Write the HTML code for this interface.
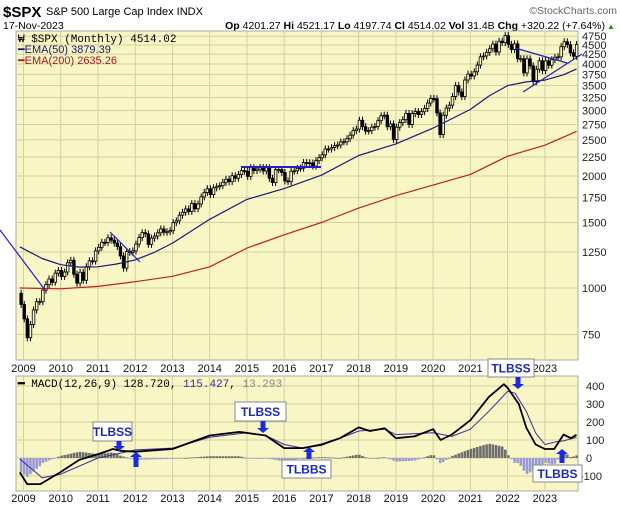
<!DOCTYPE html>
<html><head><meta charset="utf-8"><style>
body{margin:0;background:#fff;width:620px;height:507px;overflow:hidden;font-family:"Liberation Sans",sans-serif}
svg{position:absolute;left:0;top:0}
</style></head><body>
<svg id="c" width="620" height="507" viewBox="0 0 620 507" xmlns="http://www.w3.org/2000/svg">
<g id="hdr">
<text x="3" y="17" font-size="15" font-weight="bold">$SPX</text>
<text x="46" y="15" font-size="11">S&amp;P 500 Large Cap Index INDX</text>
<text x="617" y="14" font-size="10.5" fill="#666" text-anchor="end">©StockCharts.com</text>
<text x="3" y="29" font-size="10.5">17-Nov-2023</text>
<text x="605" y="29" font-size="10.5" text-anchor="end"><tspan font-weight="bold">Op</tspan> 4201.27 <tspan font-weight="bold">Hi</tspan> 4521.17 <tspan font-weight="bold">Lo</tspan> 4197.74 <tspan font-weight="bold">Cl</tspan> 4514.02 <tspan font-weight="bold">Vol</tspan> 31.4B <tspan font-weight="bold">Chg</tspan> +320.22 (+7.64%)</text>
<text x="607" y="29" font-size="8" fill="#2a8a2a">▲</text>
</g>
<g id="main"></g>
<g id="macd"></g>
</svg>
<script>
// ---- price data (monthly closes Dec-2008 .. Nov-2023) ----
const startYear = 2008, startMonth = 11; // Dec 2008
const closes = [903,
826,735,798,873,919,919,987,1021,1057,1036,1096,1115,
1074,1104,1169,1187,1089,1031,1102,1049,1141,1183,1181,1258,
1286,1327,1326,1364,1345,1321,1292,1219,1131,1253,1247,1258,
1312,1366,1408,1398,1310,1362,1379,1407,1441,1412,1416,1426,
1498,1515,1569,1598,1631,1606,1686,1633,1682,1757,1806,1848,
1783,1859,1872,1884,1924,1960,1931,2003,1972,2018,2068,2059,
1995,2105,2068,2086,2107,2063,2104,1972,1920,2079,2080,2044,
1940,1932,2060,2065,2097,2099,2174,2171,2168,2126,2199,2239,
2279,2364,2363,2384,2412,2423,2470,2472,2519,2575,2648,2674,
2824,2714,2641,2648,2705,2718,2816,2902,2914,2712,2760,2507,
2704,2784,2834,2946,2752,2942,2980,2926,2977,3038,3141,3231,
3226,2954,2585,2912,3044,3100,3271,3500,3363,3270,3622,3756,
3714,3811,3973,4181,4204,4298,4395,4523,4308,4605,4567,4766,
4516,4374,4530,4132,4132,3785,4130,3955,3586,3872,4080,3840,
4077,3970,4109,4169,4180,4450,4589,4508,4288,4194,4514];
const firstOpen = 968;
const ema50T = [2008.9,2009.5,2010,2010.5,2011,2011.5,2012,2012.5,2013,2014,2015,2016,2017,2018,2019,2020,2021,2021.5,2022,2022.5,2023,2023.5,2023.85];
const ema50V = [1290,1200,1155,1138,1140,1160,1190,1245,1320,1530,1730,1850,2010,2270,2440,2690,3020,3280,3500,3580,3620,3740,3880];
const ema200T = [2008.9,2010,2011,2012,2013,2014,2015,2016,2017,2018,2019,2020,2021,2022,2023,2023.85];
const ema200V = [1000,995,1010,1040,1075,1140,1280,1390,1500,1640,1770,1890,2020,2260,2420,2635];
const priceTicks = [4750,4500,4250,4000,3750,3500,3250,3000,2750,2500,2250,2000,1750,1500,1250,1000,750];
const yearLabels = [2009,2010,2011,2012,2013,2014,2015,2016,2017,2018,2019,2020,2021,2022,2023];
// ---- MACD ----
const macdT = [2008.9,2009.1,2009.45,2010,2010.5,2011.1,2011.4,2011.6,2012,2013,2014,2014.8,2015.5,2016,2016.5,2017,2017.5,2018,2018.3,2018.7,2019,2019.5,2020,2020.2,2020.5,2021,2021.5,2021.9,2022,2022.3,2022.5,2022.75,2023,2023.25,2023.5,2023.7,2023.85];
const macdV = [-80,-145,-145,-78,-10,28,50,40,35,50,125,145,125,55,55,75,110,170,150,165,110,120,160,100,130,210,340,410,390,300,170,75,50,50,130,110,129];
const sigT = [2008.9,2009.5,2010,2011,2012,2013,2014,2015,2015.5,2016,2016.5,2017,2018,2018.7,2019,2020,2020.5,2021,2021.5,2022,2022.2,2022.5,2022.75,2023,2023.3,2023.5,2023.85];
const sigV = [-5,-110,-90,0,45,55,115,140,125,75,55,70,150,160,130,140,120,160,260,370,360,260,140,75,90,95,115];
const macdTicks = [400,300,200,100,0,-100];

const NS='http://www.w3.org/2000/svg';
function mk(tag, at, parent){const e=document.createElementNS(NS,tag);for(const k in at)e.setAttribute(k,at[k]);parent.appendChild(e);return e;}
const L=16,R=578,PT=31,PB=360,MT=376,MB=491;
const xT = t => 23.5 + 37.24*(t-2009);
const yP = p => 288 - Math.log(p/1000)*161.6;
const yM = v => 458 - v*0.18;
const BG='#f8f6c4', GR='#d2d0a4';
const main=document.getElementById('main'), mac=document.getElementById('macd');

function panel(g,top,bot,nm){
  const r=mk('rect',{x:L,y:top,width:R-L,height:bot-top,fill:BG,stroke:'#aaa'},g);
  
  
  yearLabels.forEach(y=>{const l=mk('line',{x1:xT(y),x2:xT(y),y1:top,y2:bot,stroke:GR,'stroke-width':1},g);
    
    });
}
panel(main,PT,PB,'price-plot-area');
panel(mac,MT,MB,'macd-plot-area');

priceTicks.forEach(p=>{const y=yP(p);
  const l=mk('line',{x1:L,x2:R,y1:y,y2:y,stroke:GR},main);
  
  
  const t=mk('text',{x:582,y:y+4,'font-size':11,fill:'#222'},main);t.textContent=p;
  
  });
macdTicks.forEach(v=>{const y=yM(v);
  const l=mk('line',{x1:L,x2:R,y1:y,y2:y,stroke:GR},mac);
  
  
  const t=mk('text',{x:v<0?580:586,y:y+4,'font-size':11,fill:'#222'},mac);t.textContent=v;
  
  });
yearLabels.forEach(y=>{[[372,'x-axis-year-label'],[502,'macd-x-axis-year-label']].forEach(([yy,nm])=>{
  const t=mk('text',{x:xT(y),y:yy,'font-size':11,'text-anchor':'middle',fill:'#111'},document.getElementById('c'));t.textContent=y;
  
  });});

// candles
const cg=mk('g',{},main);
closes.forEach((c,i)=>{
  const t=startYear+(startMonth+i)/12+0.02;
  const o=i===0?firstOpen:closes[i-1];
  const x=xT(t), y1=yP(Math.max(o,c)), y2=yP(Math.min(o,c));
  const w=mk('line',{x1:x,x2:x,y1:y1-3.5,y2:y2+3.5,stroke:'#000','stroke-width':1},cg);
  
  
  const b=mk('rect',{x:x-1.3,y:y1,width:2.6,height:Math.max(1,y2-y1),fill:c>=o?BG:'#000',stroke:'#000','stroke-width':0.8},cg);
  
  
});
function poly(ts,vs,fy,col,w,g,nm){
  const pts=ts.map((t,i)=>xT(t).toFixed(1)+','+fy(vs[i]).toFixed(1)).join(' ');
  const p=mk('polyline',{points:pts,fill:'none',stroke:col,'stroke-width':w,'stroke-linejoin':'round'},g);
  
  
}
poly(ema50T,ema50V,yP,'#1a1a7a',1.2,main,'ema50-line');
poly(ema200T,ema200V,yP,'#c0201a',1.2,main,'ema200-line');
// trendlines
[[0,230,45,290],[110,232,140,262],[241,167,321,167],[515,48,567,63],[523,92,582,54]].forEach(a=>{
  const l=mk('line',{x1:a[0],y1:a[1],x2:a[2],y2:a[3],stroke:'#2020cc','stroke-width':a[1]===a[3]?2:1.2},document.getElementById('c'));
  
  });
// legend
const lg=mk('g',{'font-size':11},main);


[['₩ $SPX (Monthly) 4514.02','#000',42,'"Liberation Mono",monospace'],['━EMA(50) 3879.39','#1a1a6a',53,'"Liberation Sans",sans-serif'],['━EMA(200) 2635.26','#b01818',64,'"Liberation Sans",sans-serif']].forEach(a=>{
  const t=mk('text',{x:18,y:a[2],fill:a[1],'font-family':a[3]},lg);t.textContent=a[0];
  
  });

// MACD interp
function interp(ts,vs,t){if(t<=ts[0])return vs[0];for(let i=1;i<ts.length;i++)if(t<=ts[i]){const f=(t-ts[i-1])/(ts[i]-ts[i-1]);return vs[i-1]+f*(vs[i]-vs[i-1]);}return vs[vs.length-1];}
closes.forEach((c,i)=>{
  const t=startYear+(startMonth+i)/12+0.02;
  const h=interp(macdT,macdV,t)-interp(sigT,sigV,t);
  const y0=yM(0),y1=yM(h);
  const b=mk('rect',{x:xT(t)-1.3,y:Math.min(y0,y1),width:2.6,height:Math.max(0.8,Math.abs(y1-y0)),fill:h>=0?'#6e6e6e':'#9a9ad8'},mac);
  
  
});
poly(sigT,sigV,yM,'#3a2aa0',1,mac,'macd-signal-line');
poly(macdT,macdV,yM,'#000',1.8,mac,'macd-line');
const ml=mk('text',{x:18,y:387,'font-size':11,'font-family':'"Liberation Mono",monospace'},mac);
ml.innerHTML='<tspan font-family="Liberation Sans" font-weight="bold">━</tspan> MACD(12,26,9) 128.720, <tspan fill="#3a2aa0">115.427</tspan>, <tspan fill="#888">13.293</tspan>';



// annotations
const svg=document.getElementById('c');
function box(x1,y1,x2,y2,txt){
  const g=mk('g',{},svg);
  
  
  mk('rect',{x:x1,y:y1,width:x2-x1,height:y2-y1,fill:'#fff',stroke:'#888'},g);
  const t=mk('text',{x:(x1+x2)/2,y:(y1+y2)/2+4.5,'font-size':12,'font-weight':'bold',fill:'#1a2ab8','text-anchor':'middle'},g);t.textContent=txt;
}
function arrow(x,ya,yb){ // ya tail, yb head
  const d=yb>ya?1:-1;
  const p=`M${x-2.5},${ya} L${x+2.5},${ya} L${x+2.5},${yb-d*5} L${x+6},${yb-d*5} L${x},${yb} L${x-6},${yb-d*5} L${x-2.5},${yb-d*5} Z`;
  const e=mk('path',{d:p,fill:'#1a2ae0'},svg);
  
  
}
box(93,422,132,441,'TLBSS');arrow(119,441,451);
arrow(136,467,452);
box(235,402,286,421,'TLBSS');arrow(263,421,433);
arrow(309,459,447);box(282,460,331,478,'TLBBS');
box(488,359,534,377,'TLBSS');arrow(518,377,389);
arrow(562,463,449);box(533,465,582,482,'TLBBS');
</script>
</body></html>
